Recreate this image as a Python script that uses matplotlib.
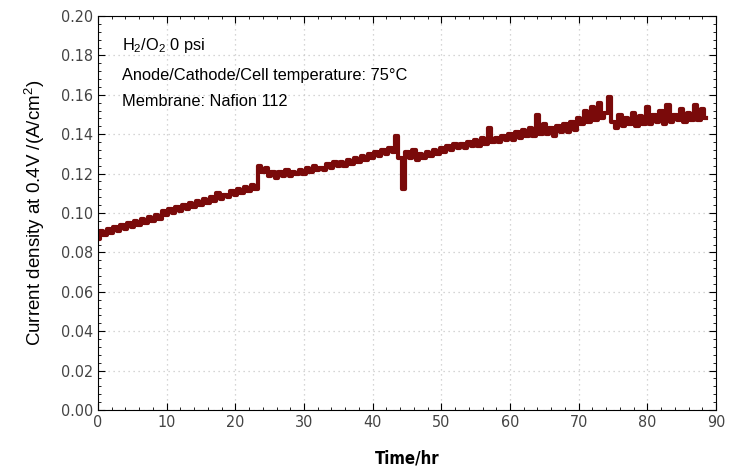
import numpy as np
import matplotlib
matplotlib.use("Agg")
import matplotlib.pyplot as plt
from matplotlib.ticker import MultipleLocator, FormatStrFormatter

# time in hours, one reading every half hour
time_hr = np.arange(0, 89, 0.5)

# current density (A/cm2)
current = [
    0.087, 0.091, 0.089, 0.092, 0.090, 0.093, 0.091, 0.094, 0.092, 0.095,
    0.093, 0.096, 0.094, 0.097, 0.095, 0.098, 0.096, 0.099, 0.097, 0.101,
    0.099, 0.102, 0.100, 0.103, 0.101, 0.104, 0.102, 0.105, 0.103, 0.106,
    0.104, 0.107, 0.105, 0.108, 0.106, 0.110, 0.107, 0.109, 0.108, 0.111,
    0.109, 0.112, 0.110, 0.113, 0.111, 0.114, 0.112, 0.124, 0.121, 0.123,
    0.119, 0.121, 0.118, 0.121, 0.119, 0.122, 0.119, 0.121, 0.120, 0.122,
    0.120, 0.123, 0.121, 0.124, 0.122, 0.123, 0.122, 0.125, 0.123, 0.126,
    0.124, 0.126, 0.124, 0.127, 0.125, 0.128, 0.126, 0.129, 0.127, 0.130,
    0.128, 0.131, 0.129, 0.132, 0.130, 0.133, 0.131, 0.139, 0.128, 0.112,
    0.131, 0.128, 0.132, 0.127, 0.130, 0.128, 0.131, 0.129, 0.132, 0.130,
    0.133, 0.131, 0.134, 0.132, 0.135, 0.133, 0.135, 0.133, 0.136, 0.134,
    0.137, 0.134, 0.138, 0.135, 0.143, 0.136, 0.138, 0.136, 0.139, 0.137,
    0.140, 0.137, 0.141, 0.138, 0.142, 0.139, 0.143, 0.139, 0.150, 0.140,
    0.145, 0.140, 0.143, 0.139, 0.144, 0.141, 0.145, 0.141, 0.146, 0.142,
    0.148, 0.145, 0.152, 0.146, 0.154, 0.147, 0.156, 0.148, 0.151, 0.159,
    0.146, 0.143, 0.150, 0.144, 0.148, 0.145, 0.151, 0.144, 0.149, 0.145,
    0.154, 0.145, 0.150, 0.146, 0.152, 0.145, 0.155, 0.146, 0.150, 0.147,
    0.153, 0.146, 0.151, 0.147, 0.155, 0.147, 0.153, 0.148,
]

info_lines = ["H$_2$/O$_2$ 0 psi",
              "Anode/Cathode/Cell temperature: 75\u00b0C",
              "Membrane: Nafion 112"]

plt.rcParams["font.family"] = ["Liberation Sans", "DejaVu Sans"]
plt.rcParams["mathtext.fontset"] = "custom"
plt.rcParams["mathtext.rm"] = "Liberation Sans"

fig = plt.figure(figsize=(7.38, 4.68), dpi=100)
ax = fig.add_axes([98 / 738, 1 - 410 / 468, 618 / 738, 394 / 468])

ax.plot(time_hr, current, color="#7a0a0a", linewidth=3, drawstyle="steps-mid")

ax.xaxis.set_major_locator(MultipleLocator(10))
ax.xaxis.set_minor_locator(MultipleLocator(2))
ax.yaxis.set_major_locator(MultipleLocator(0.02))
ax.yaxis.set_minor_locator(MultipleLocator(0.004))
ax.yaxis.set_major_formatter(FormatStrFormatter("%.2f"))
ax.set_xlim(0, 90)
ax.set_ylim(0, 0.20)
ax.tick_params(which="both", direction="in", top=True, right=True, labelsize=11.5)
ax.tick_params(which="major", length=5)
ax.tick_params(which="minor", length=2.5)
for lab in ax.get_xticklabels() + ax.get_yticklabels():
    lab.set_family("DejaVu Sans")
    lab.set_stretch("condensed")
    lab.set_color("#444444")
ax.grid(True, which="major", linestyle=(0, (1, 3)), color="#c8c8c8", linewidth=0.9)

ax.set_xlabel("Time/hr", fontsize=12, fontweight="bold", fontstretch="condensed",
              family="DejaVu Sans", labelpad=14)
ax.set_ylabel("Current density at 0.4V /(A/cm$^2$)", fontsize=13.5, labelpad=10)

ypos = [0.926, 0.850, 0.784]
for txt, yy in zip(info_lines, ypos):
    ax.text(0.039, yy, txt, transform=ax.transAxes, fontsize=11.8, va="center")

plt.savefig("out.png", dpi=100)
